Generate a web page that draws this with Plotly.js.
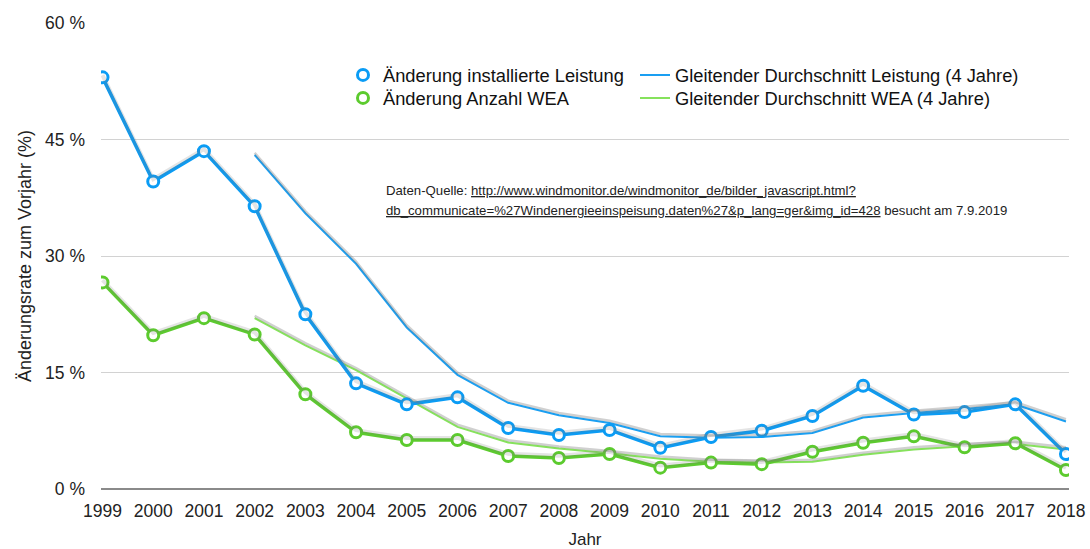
<!DOCTYPE html>
<html>
<head>
<meta charset="utf-8">
<script src="https://cdn.plot.ly/plotly-3.0.1.min.js"></script>
<style>html,body{margin:0;padding:0;background:#fff;}#chart{width:1090px;height:549px;}</style>
</head>
<body>
<div id="chart"></div>
<script>
var years = [1999,2000,2001,2002,2003,2004,2005,2006,2007,2008,2009,2010,2011,2012,2013,2014,2015,2016,2017,2018];
var leistung = [53.0,39.6,43.5,36.4,22.5,13.6,10.9,11.8,7.85,6.95,7.6,5.3,6.7,7.5,9.4,13.3,9.6,9.9,10.9,4.5];
var wea = [26.6,19.8,22.0,19.9,12.2,7.3,6.3,6.3,4.25,4.0,4.5,2.75,3.4,3.2,4.8,5.96,6.8,5.37,5.9,2.45];
var maYears = [2002,2003,2004,2005,2006,2007,2008,2009,2010,2011,2012,2013,2014,2015,2016,2017,2018];
var maLeistung = [43.0,35.5,29.0,20.8,14.7,11.1,9.5,8.5,6.8,6.6,6.7,7.2,9.2,9.8,10.3,10.9,8.7];
var maWea = [22.0,18.5,15.3,11.7,8.0,6.0,5.2,4.6,3.9,3.5,3.4,3.5,4.4,5.1,5.5,5.8,5.1];
var yTicks = [0,15,30,45,60];
var yTickText = ["0 %","15 %","30 %","45 %","60 %"];
var names = ["Änderung installierte Leistung","Änderung Anzahl WEA","Gleitender Durchschnitt Leistung (4 Jahre)","Gleitender Durchschnitt WEA (4 Jahre)"];

var blue = "#0a9cf5", green = "#5ccb2e", maBlue = "#1a9ff2", maGreen = "#86e25c";
var shadow = "rgba(120,120,120,0.35)";

var traces = [
  {x: maYears, y: maLeistung, yaxis: "y2", mode: "lines", line: {color: shadow, width: 2.5}, showlegend: false, hoverinfo: "skip"},
  {x: maYears, y: maWea, yaxis: "y2", mode: "lines", line: {color: shadow, width: 2.5}, showlegend: false, hoverinfo: "skip"},
  {x: years, y: leistung, yaxis: "y2", mode: "lines", line: {color: "rgba(120,120,120,0.2)", width: 4}, showlegend: false, hoverinfo: "skip"},
  {x: years, y: wea, yaxis: "y2", mode: "lines", line: {color: "rgba(120,120,120,0.2)", width: 4}, showlegend: false, hoverinfo: "skip"},
  {x: maYears, y: maLeistung, mode: "lines", name: names[2], line: {color: maBlue, width: 2}, legend: "legend3"},
  {x: maYears, y: maWea, mode: "lines", name: names[3], line: {color: maGreen, width: 2}, legend: "legend4"},
  {x: years, y: leistung, mode: "lines+markers", name: names[0], line: {color: blue, width: 3.5}, showlegend: false,
   marker: {symbol: "circle", size: 11, color: "#ffffff", line: {color: blue, width: 3}}},
  {x: years, y: wea, mode: "lines+markers", name: names[1], line: {color: green, width: 3.5}, showlegend: false,
   marker: {symbol: "circle", size: 11, color: "#ffffff", line: {color: green, width: 3}}},
  {x: [null], y: [null], mode: "markers", name: names[0], legend: "legend",
   marker: {symbol: "circle", size: 11, color: "#ffffff", line: {color: blue, width: 3}}},
  {x: [null], y: [null], mode: "markers", name: names[1], legend: "legend2",
   marker: {symbol: "circle", size: 11, color: "#ffffff", line: {color: green, width: 3}}}
];

var fontFam = "Liberation Sans, Arial, Helvetica, sans-serif";
function leg(xpx, ypx) {
  return {x: (xpx - 101) / 968, y: (489 - ypx) / 466, xanchor: "left", yanchor: "middle", bgcolor: "rgba(0,0,0,0)",
          font: {size: 18.3, color: "#111", family: fontFam}, tracegroupgap: 0, orientation: "v"};
}
var uStyle = "text-decoration:underline";
var layout = {
  width: 1090, height: 549,
  margin: {l: 101, r: 21, t: 23, b: 60},
  paper_bgcolor: "#ffffff", plot_bgcolor: "#ffffff",
  font: {family: fontFam, color: "#222", size: 15},
  xaxis: {
    range: [1998.97, 2018.06], tickmode: "array", tickvals: years, ticktext: years.map(String),
    showgrid: false, zeroline: false, showline: false, ticks: "", ticklabelstandoff: 9,
    tickfont: {size: 17.5, color: "#222"},
    title: {text: "Jahr", font: {size: 17, color: "#222"}, standoff: 17}, automargin: false
  },
  yaxis: {
    range: [0, 60], tickmode: "array", tickvals: yTicks, ticktext: yTickText,
    showgrid: true, gridcolor: "#d2d2d2", gridwidth: 1, zeroline: true, zerolinecolor: "#8a8a8a", zerolinewidth: 1.5,
    showline: false, ticks: "", ticklabelstandoff: 15,
    tickfont: {size: 17.5, color: "#222"},
    title: {text: "Änderungsrate zum Vorjahr (%)", font: {size: 18, color: "#222"}, standoff: 8}, automargin: false
  },
  yaxis2: {range: [-0.28, 59.72], overlaying: "y", visible: false, showgrid: false, zeroline: false},
  legend: leg(343, 75),
  legend2: leg(343, 98),
  legend3: leg(635, 75),
  legend4: leg(635, 98),
  annotations: [
    {xref: "paper", yref: "paper", x: (384-101)/968, y: (489-190)/466, xanchor: "left", yanchor: "middle",
     align: "left", showarrow: false, font: {size: 13.2, color: "#222", family: fontFam},
     text: "Daten-Quelle: <span style=\"" + uStyle + "\">http://www.windmonitor.de/windmonitor_de/bilder_javascript.html?</span>"},
    {xref: "paper", yref: "paper", x: (384-101)/968, y: (489-210)/466, xanchor: "left", yanchor: "middle",
     align: "left", showarrow: false, font: {size: 13.2, color: "#222", family: fontFam},
     text: "<span style=\"" + uStyle + "\">db_communicate=%27Windenergieeinspeisung.daten%27&p_lang=ger&img_id=428</span> besucht am 7.9.2019"}
  ]
};

Plotly.newPlot("chart", traces, layout, {displayModeBar: false, staticPlot: true});
</script>
</body>
</html>
